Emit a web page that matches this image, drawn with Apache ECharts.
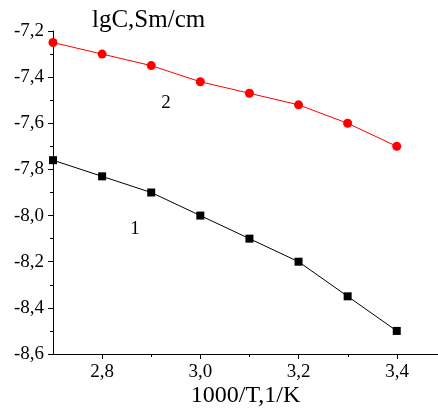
<!DOCTYPE html>
<html>
<head>
<meta charset="utf-8">
<script src="https://cdn.jsdelivr.net/npm/echarts@6/dist/echarts.min.js"></script>
<style>html,body{margin:0;padding:0;background:#fff}#c{width:438px;height:416px}</style>
</head>
<body>
<div id="c"></div>
<script>
const xValues = [2.7, 2.8, 2.9, 3.0, 3.1, 3.2, 3.3, 3.4];
const series1 = [-7.76, -7.83, -7.90, -8.00, -8.10, -8.20, -8.35, -8.50];
const series2 = [-7.25, -7.30, -7.35, -7.42, -7.47, -7.52, -7.60, -7.70];
const curveLabels = ['1', '2'];
const curveLabelPos = [[2.867, -8.06], [2.93, -7.51]];
const yTitle = 'lgC,Sm/cm';
const xTitle = '1000/T,1/K';

const FONT = "Liberation Serif";
const fmt = v => '{s|' + v.toFixed(1).replace('.', ',') + '}';
const labelStyle = {fontFamily: FONT, fontSize: 19, fontWeight: 'normal', fontStyle: 'normal', color: '#000'};
const tickLabel = Object.assign({formatter: fmt, margin: 9, rich: {s: Object.assign({}, labelStyle)}}, labelStyle);
const chart = echarts.init(document.getElementById('c'), null, {renderer: 'canvas'});
chart.setOption({
  backgroundColor: '#fff',
  animation: false,
  textStyle: {fontFamily: FONT, color: '#000'},
  title: {
    text: yTitle, left: 87, top: 3,
    textStyle: {fontFamily: FONT, fontSize: 25, fontWeight: 'normal', color: '#000'}
  },
  grid: [
    {left: 53, right: 0, top: 31, bottom: 62},
    {left: 102, right: 41, top: 31, bottom: 62}
  ],
  xAxis: [
    {
      type: 'value', gridIndex: 0, min: 2.7, max: 3.484,
      axisLine: {show: true, lineStyle: {color: '#000', width: 1}},
      axisTick: {show: false}, axisLabel: {show: false}, splitLine: {show: false},
      name: xTitle, nameLocation: 'middle', nameGap: 30,
      nameTextStyle: {fontFamily: FONT, fontSize: 24, fontWeight: 'normal', color: '#000'}
    },
    {
      type: 'value', gridIndex: 1, min: 2.8, max: 3.4, interval: 0.2,
      axisLine: {show: false},
      axisTick: {show: true, length: 5, lineStyle: {color: '#000'}},
      minorTick: {show: true, splitNumber: 2, length: 3, lineStyle: {color: '#000'}},
      axisLabel: tickLabel,
      splitLine: {show: false}
    }
  ],
  yAxis: [
    {
      type: 'value', gridIndex: 0, min: -8.6, max: -7.2, interval: 0.2,
      axisLine: {show: true, onZero: false, lineStyle: {color: '#000', width: 1}},
      axisTick: {show: true, length: 5, lineStyle: {color: '#000'}},
      minorTick: {show: true, splitNumber: 2, length: 3, lineStyle: {color: '#000'}},
      axisLabel: tickLabel,
      splitLine: {show: false}
    },
    {
      type: 'value', gridIndex: 1, min: -8.6, max: -7.2, show: false
    }
  ],
  series: [
    {
      type: 'line', xAxisIndex: 0, yAxisIndex: 0,
      data: xValues.map((x, i) => [x, series1[i]]),
      symbol: 'rect', symbolSize: 8,
      itemStyle: {color: '#000'}, lineStyle: {color: '#000', width: 1}
    },
    {
      type: 'line', xAxisIndex: 0, yAxisIndex: 0,
      data: xValues.map((x, i) => [x, series2[i]]),
      symbol: 'circle', symbolSize: 9,
      itemStyle: {color: '#ff0000'}, lineStyle: {color: '#ff0000', width: 1}
    },
    {
      type: 'scatter', xAxisIndex: 0, yAxisIndex: 0, symbolSize: 1,
      itemStyle: {opacity: 1, color: 'rgba(0,0,0,0)'},
      data: curveLabels.map((t, i) => ({name: t, value: curveLabelPos[i]})),
      label: Object.assign({show: true, position: 'inside', formatter: p => p.name}, labelStyle)
    }
  ]
});
</script>
</body>
</html>
